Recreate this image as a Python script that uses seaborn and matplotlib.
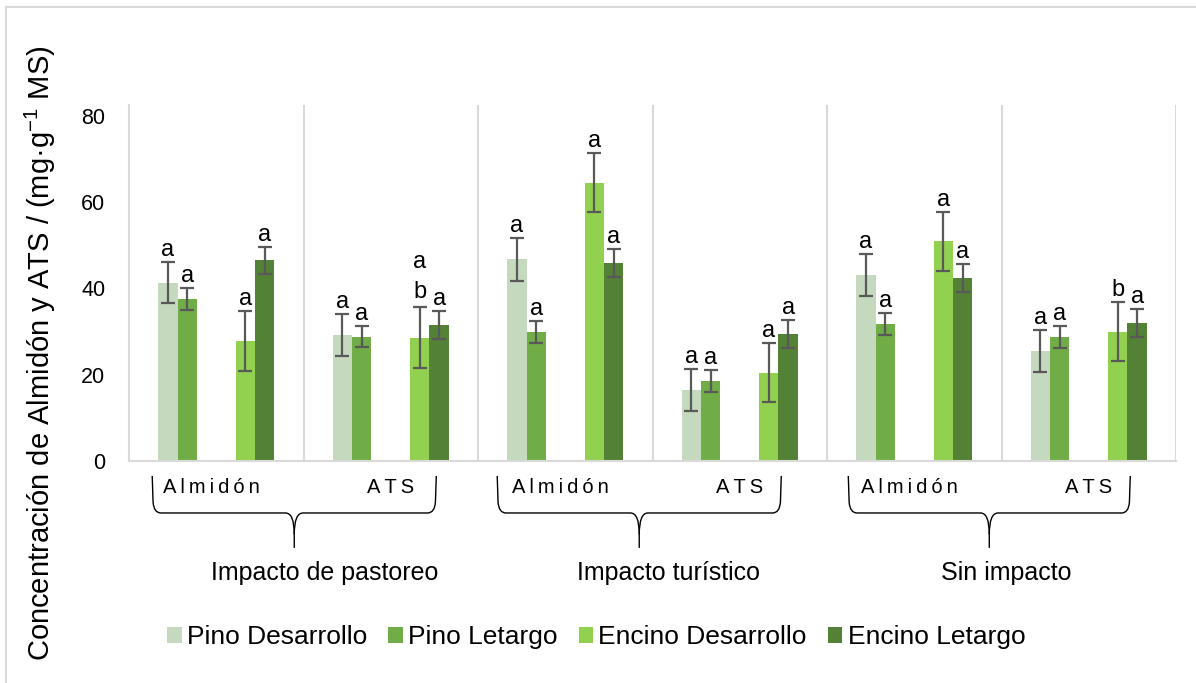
import numpy as np
import pandas as pd
import matplotlib
matplotlib.use("Agg")
import matplotlib.pyplot as plt
import seaborn as sns
from matplotlib.path import Path
from matplotlib.patches import PathPatch, Rectangle
from matplotlib.transforms import blended_transform_factory
from matplotlib.lines import Line2D

# ---------------- data ----------------
impacts = ["Impacto de pastoreo", "Impacto turístico", "Sin impacto"]
variables = ["Almidón", "ATS"]
series = ["Pino Desarrollo", "Pino Letargo", "Encino Desarrollo", "Encino Letargo"]

pino_des = [41.3, 29.2, 46.7, 16.5, 43.1, 25.5]
pino_let = [37.6, 28.8, 29.9, 18.5, 31.8, 28.8]
encino_des = [27.8, 28.6, 64.5, 20.5, 50.9, 30.0]
encino_let = [46.5, 31.5, 45.9, 29.4, 42.4, 32.0]

pino_des_err = [4.8, 4.9, 4.9, 4.9, 4.9, 4.9]
pino_let_err = [2.5, 2.4, 2.6, 2.6, 2.6, 2.5]
encino_des_err = [7.0, 7.0, 6.9, 6.9, 6.9, 6.9]
encino_let_err = [3.2, 3.3, 3.2, 3.3, 3.3, 3.2]

pino_des_let = ["a", "a", "a", "a", "a", "a"]
pino_let_let = ["a", "a", "a", "a", "a", "a"]
encino_des_let = ["a", "ab", "a", "a", "a", "b"]
encino_let_let = ["a", "a", "a", "a", "a", "a"]

yticks = [0, 20, 40, 60, 80]
ylabel = r"Concentración de Almidón y ATS / (mg·g$^{\mathregular{-1}}$ MS)"

colors = {"Pino Desarrollo": "#C5D9BE", "Pino Letargo": "#70AD47",
          "Encino Desarrollo": "#92D050", "Encino Letargo": "#538135",
          "_e1": "#FFFFFF", "_e2": "#FFFFFF"}

# ---------------- build table ----------------
cats = [f"{imp}|{var}" for imp in impacts for var in variables]
vals = [pino_des, pino_let, encino_des, encino_let]
errs = [pino_des_err, pino_let_err, encino_des_err, encino_let_err]
lets = [pino_des_let, pino_let_let, encino_des_let, encino_let_let]
rows = []
for s, v in zip(series, vals):
    for c, val in zip(cats, v):
        rows.append({"cat": c, "serie": s, "valor": val})
df = pd.DataFrame(rows)

# ---------------- style ----------------
sns.set_theme(style="white")
plt.rcParams["font.family"] = ["Liberation Sans", "DejaVu Sans"]
plt.rcParams["mathtext.fontset"] = "custom"
plt.rcParams["mathtext.rm"] = "Liberation Sans"
plt.rcParams["mathtext.it"] = "Liberation Sans:italic"
plt.rcParams["text.color"] = "#000000"
plt.rcParams["axes.labelcolor"] = "#000000"

fig = plt.figure(figsize=(11.96, 6.83), dpi=100)
ax = fig.add_axes([129 / 1196, (683 - 461) / 683, (1176 - 129) / 1196, (461 - 105) / 683])

hue_order = ["Pino Desarrollo", "Pino Letargo", "_e1", "_e2", "Encino Desarrollo", "Encino Letargo"]
sns.barplot(data=df, x="cat", y="valor", hue="serie", order=cats, hue_order=hue_order,
            palette=colors, width=0.666, gap=0, errorbar=None, legend=False,
            linewidth=0, saturation=1, ax=ax)

ax.set_xlim(-0.5, 5.5)
ax.set_ylim(0, 82.5)
ax.set_yticks(yticks)
ax.set_xticks([])
ax.set_xlabel("")
ax.tick_params(axis="y", length=0, pad=17, labelsize=15.5, labelcolor="#000000")
for sp in ["top", "right"]:
    ax.spines[sp].set_visible(False)
for sp in ["left", "bottom"]:
    ax.spines[sp].set_color("#D9D9D9")
    ax.spines[sp].set_linewidth(1.5)
for xv in [0.5, 1.5, 2.5, 3.5, 4.5, 5.5]:
    ax.axvline(xv, color="#D9D9D9", lw=1.5, zorder=0)

ax.set_ylabel(ylabel, fontsize=21, color="#000000")
ax.yaxis.set_label_coords(-0.068, 0.303)

# ---------------- error bars & letters ----------------
offsets = {0: -0.2775, 1: -0.1665, 2: 0.1665, 3: 0.2775}
for p in ax.patches:
    if p.get_height() <= 0:
        continue
    xc = p.get_x() + p.get_width() / 2
    ci = int(round(xc))
    off = xc - ci
    si = min(offsets, key=lambda k: abs(offsets[k] - off))
    v = vals[si][ci]
    e = errs[si][ci]
    ax.errorbar(xc, v, yerr=e, fmt="none", ecolor="#595959", elinewidth=1.6,
                capsize=5, capthick=1.6, zorder=5)
    lab = lets[si][ci]
    if len(lab) == 2:
        ax.annotate(lab[1], (xc, v + e), xytext=(0, 9), textcoords="offset pixels",
                    ha="center", va="baseline", fontsize=17, color="#000000")
        ax.annotate(lab[0], (xc, v + e), xytext=(0, 39), textcoords="offset pixels",
                    ha="center", va="baseline", fontsize=17, color="#000000")
    else:
        ax.annotate(lab, (xc, v + e), xytext=(0, 6), textcoords="offset pixels",
                    ha="center", va="baseline", fontsize=17, color="#000000")

# ---------------- category labels & braces ----------------
tr = blended_transform_factory(ax.transData, ax.transAxes)
for i, c in enumerate(cats):
    var = c.split("|")[1]
    txt = "\u2009".join(list(var))
    xpos = i - 0.03 if var == "Almidón" else i
    ax.text(xpos, -0.0758, txt, transform=tr, ha="center", va="center",
            fontsize=14.5, color="#000000", clip_on=False)

grp_label_x = [0.622, 2.593, 4.527]
brace_x = [(-0.367, 1.261), (1.61, 3.238), (3.622, 5.238)]
yt, yh, ytip = -0.042, -0.146, -0.244
for k, imp in enumerate(impacts):
    x0, x1 = brace_x[k]
    xm = (x0 + x1) / 2
    dx = 0.05
    verts = [
        (x0, yt), (x0 + 0.005, yh + 0.03), (x0 + 0.01, yh), (x0 + dx, yh),
        (xm - dx, yh), (xm, yh), (xm, yh - 0.06), (xm, ytip),
    ]
    codes = [Path.MOVETO, Path.LINETO, Path.CURVE3, Path.CURVE3,
             Path.LINETO, Path.CURVE3, Path.CURVE3, Path.LINETO]
    verts2 = [
        (xm, yh - 0.06), (xm, yh), (xm + dx, yh), (x1 - dx, yh),
        (x1 - 0.01, yh), (x1 - 0.005, yh + 0.03), (x1, yt),
    ]
    codes2 = [Path.MOVETO, Path.CURVE3, Path.CURVE3, Path.LINETO,
              Path.CURVE3, Path.CURVE3, Path.LINETO]
    for vv, cc in [(verts, codes), (verts2, codes2)]:
        ax.add_patch(PathPatch(Path(vv, cc), transform=tr, fill=False,
                               edgecolor="#000000", lw=1.0, clip_on=False))
    ax.text(grp_label_x[k], -0.315, imp, transform=tr, ha="center", va="center",
            fontsize=18, color="#000000", clip_on=False)

# ---------------- legend ----------------
handles = [Rectangle((0, 0), 1, 1, facecolor=colors[s], edgecolor="none") for s in series]
fig.legend(handles, series, loc="center", bbox_to_anchor=(0.4985, (683 - 637) / 683),
           ncol=4, frameon=False, fontsize=19, handlelength=0.55, handleheight=0.55,
           handletextpad=0.2, columnspacing=0.8, borderpad=0, borderaxespad=0,
           labelcolor="#000000")

# ---------------- outer border (top & left) ----------------
fig.add_artist(Line2D([6 / 1196, 1.0], [(683 - 7) / 683] * 2, color="#D9D9D9", lw=1.5))
fig.add_artist(Line2D([6 / 1196] * 2, [0, (683 - 7) / 683], color="#D9D9D9", lw=1.5))

fig.savefig("out.png", dpi=100)
